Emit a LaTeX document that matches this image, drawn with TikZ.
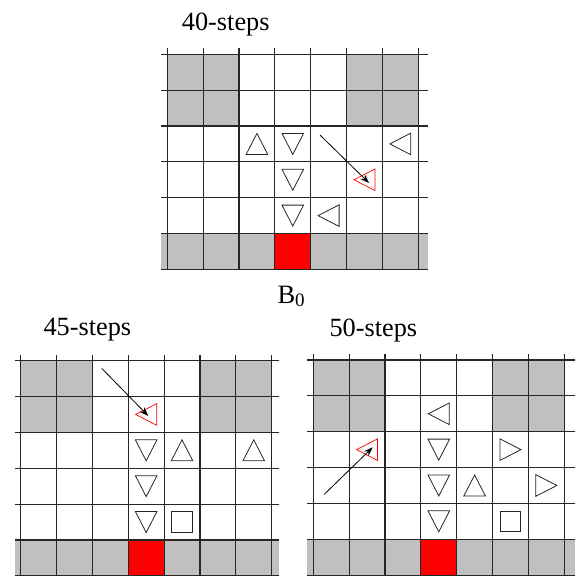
\documentclass[tikz,border=0pt]{standalone}
\usepackage{fontspec}
\setmainfont{Liberation Serif}
\newfontfamily\tnr{Liberation Serif}
\usetikzlibrary{arrows.meta}
\definecolor{silver}{RGB}{192,192,192}
\def\cs{35.85}
\tikzset{
  gridline/.style={line width=1.1pt, draw=black!85},
  symline/.style={line width=0.8pt, draw=black!85},
  redline/.style={line width=0.7pt, draw=red},
  tri/.pic={\draw[symline, pic actions] (-10.8,-10.5)--(10.8,-10.5)--(0,10.5)--cycle;},
  redtri/.pic={\draw[redline] (-10.8,-10.5)--(10.8,-10.5)--(0,10.5)--cycle;},
  sq/.pic={\draw[symline] (-10.35,-10.35) rectangle (10.35,10.35);},
  arr/.style={line width=0.8pt, -{Stealth[length=9pt,width=6.5pt]}},
  title/.style={anchor=base west, inner sep=0pt, font=\tnr\fontsize{26.3}{26.3}\selectfont}
}
\newcommand\mazegrid[3]{%
  \begin{scope}[shift={(#1,#2)}]
    \fill[silver] (0,0) rectangle ({2*\cs},{2*\cs});
    \fill[silver] ({5*\cs},0) rectangle ({7*\cs},{2*\cs});
    \fill[silver] (-6,{5*\cs}) rectangle ({7*\cs+#3},{6*\cs});
    \fill[red] ({3*\cs},{5*\cs}) rectangle ({4*\cs},{6*\cs});
    \foreach \k in {0,...,6} \draw[gridline] (-6,{\k*\cs}) -- ({7*\cs+#3},{\k*\cs});
    \foreach \k in {0,...,7} \draw[gridline] ({\k*\cs},-6) -- ({\k*\cs},{6*\cs});
  \end{scope}}
\begin{document}
\begin{tikzpicture}[x=1pt,y=-1pt]
\useasboundingbox (0,0) rectangle (575,576);
% ---------- 40 steps ----------
\node[title] (t40) at (181.7,30.7) {40-steps};
\mazegrid{167.3}{54.3}{10}
\begin{scope}[shift={(167.3,54.3)}]
  \foreach \c/\r/\rot in {3/3/180, 4/3/0, 7/3/-90, 4/4/0, 4/5/0, 5/5/-90}
    \pic[rotate=\rot] at ({(\c-0.5)*\cs},{(\r-0.5)*\cs}) {tri};
  \pic[rotate=-90] (r40) at ({5.5*\cs},{3.5*\cs}) {redtri};
\end{scope}
\coordinate (a40s) at (320,135);
\coordinate (a40e) at (369,183);
\draw[arr] (a40s) -- (a40e);
\node[anchor=base west, inner sep=0pt, font=\tnr\fontsize{26.5}{26.5}\selectfont] (b0) at (277.3,303.3) {B\raisebox{-3.4pt}{\fontsize{19}{19}\selectfont 0}};
% ---------- 45 steps ----------
\node[title] (t45) at (43.3,335) {45-steps};
\mazegrid{20.7}{360.7}{7.4}
\begin{scope}[shift={(20.7,360.7)}]
  \foreach \c/\r/\rot in {4/3/0, 5/3/180, 7/3/180, 4/4/0, 4/5/0}
    \pic[rotate=\rot] at ({(\c-0.5)*\cs},{(\r-0.5)*\cs}) {tri};
  \pic (s45) at ({4.5*\cs},{4.5*\cs}) {sq};
  \pic[rotate=-90] (r45) at ({3.5*\cs},{1.5*\cs}) {redtri};
\end{scope}
\coordinate (a45s) at (101.7,368.3);
\coordinate (a45e) at (148.3,416);
\draw[arr] (a45s) -- (a45e);
% ---------- 50 steps ----------
\node[title] (t50) at (329.3,336.7) {50-steps};
\mazegrid{313.3}{360}{10.75}
\begin{scope}[shift={(313.3,360)}]
  \foreach \c/\r/\rot in {4/2/-90, 4/3/0, 6/3/90, 4/4/0, 5/4/180, 7/4/90, 4/5/0}
    \pic[rotate=\rot] at ({(\c-0.5)*\cs},{(\r-0.5)*\cs}) {tri};
  \pic (s50) at ({5.5*\cs},{4.5*\cs}) {sq};
  \pic[rotate=-90] (r50) at ({1.5*\cs},{2.5*\cs}) {redtri};
\end{scope}
\coordinate (a50s) at (324.3,494.3);
\coordinate (a50e) at (372.7,447.3);
\draw[arr] (a50s) -- (a50e);
\end{tikzpicture}
\end{document}
